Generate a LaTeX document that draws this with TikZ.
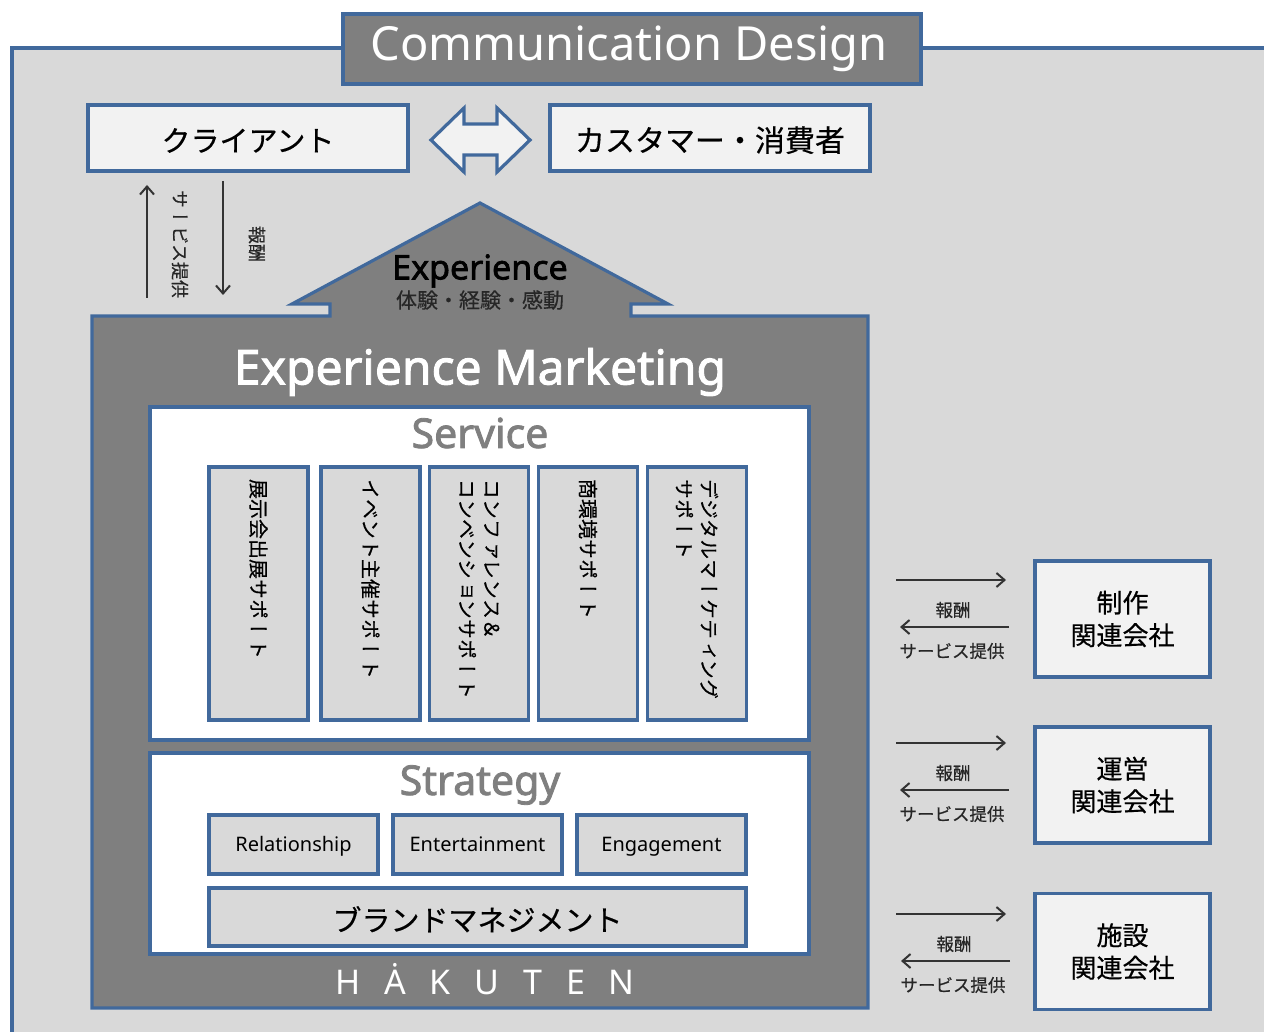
\documentclass[tikz,border=0pt]{standalone}
\usepackage{fontspec}
\usetikzlibrary{arrows.meta}
\setmainfont{Noto Sans}
\newfontfamily\heavy[FakeBold=2]{Noto Sans}
\newfontfamily\jp[FakeBold=0.5]{Noto Sans CJK JP}
\newfontfamily\tate[Vertical=RotatedGlyphs,RawFeature=+vert,FakeBold=0.4]{Noto Sans CJK JP}
\newfontfamily\spaced[LetterSpace=70]{Noto Sans}
\definecolor{edgeblue}{HTML}{41699C}
\definecolor{housegray}{HTML}{7F7F7F}
\definecolor{panelgray}{HTML}{D9D9D9}
\definecolor{palegray}{HTML}{F2F2F2}
\newcommand{\fs}[1]{\fontsize{#1}{1.25\dimexpr #1pt\relax}\selectfont}
\tikzset{
  x=1pt, y=-1pt,
  edge/.style={draw=edgeblue, line width=3.2pt},
  palebox/.style={edge, fill=palegray, text=black, inner sep=0pt, align=center},
  graybox/.style={edge, fill=panelgray, text=black, inner sep=0pt, align=center},
  whitebox/.style={edge, fill=white, inner sep=0pt},
  colbox/.style={graybox, rotate=-90, minimum width=253pt, minimum height=99pt,
    text width=229pt, align=left, font=\tate\fs{20}},
  strbox/.style={graybox, minimum width=169pt, minimum height=59pt, font=\fs{20},
    text height=16pt, text depth=2pt},
  topbox/.style={palebox, minimum width=320pt, minimum height=66pt, text height=29pt, text depth=2pt},
  partner/.style={palebox, minimum width=175pt, minimum height=116pt, font=\jp\fs{26}},
  flow/.style={-{Straight Barb[length=8pt,width=14pt]}, line width=2pt, draw=black!80},
  small/.style={inner sep=0pt, text=black!85, font=\jp\fs{17.5}}
}
\begin{document}
\begin{tikzpicture}
\useasboundingbox (0,0) rectangle (1264,1032);
\clip (0,0) rectangle (1264,1032);
\draw [edge, fill=panelgray] (12,48) rectangle (1290,1060);

\node [edge, fill=housegray, minimum width=578pt, minimum height=70pt, inner sep=0pt, text=white, font=\fs{47}] (title) at (632,49) {\hspace*{-6pt}Communication Design};
\node [topbox, font=\jp\fs{29}] (client) at (248,138) {クライアント};
\node [topbox, font=\jp\fs{30}] (customer) at (710,138) {カスタマー・消費者};
\draw [edge, fill=palegray] (431,140) -- (464,108) -- (464,124) -- (497,124) -- (497,108) -- (530,140) -- (497,172) -- (497,155) -- (464,155) -- (464,172) -- cycle;

\draw [edge, fill=housegray, line join=miter] (480,203) -- (668,304) -- (631,304) -- (631,316) -- (868,316) -- (868,1008) -- (92,1008) -- (92,316) -- (330,316) -- (330,304) -- (292,304) -- cycle;
\node [inner sep=0pt, font=\heavy\fs{34}] (exp) at (480,271) {Experience};
\node [inner sep=0pt, text=black!85, font=\jp\fs{21}] (expjp) at (480,300) {体験・経験・感動};
\node [inner sep=0pt, text=white, font=\heavy\fs{48}] (mkt) at (480,372) {Experience Marketing};

\node [whitebox, minimum width=659pt, minimum height=333pt] (service) at (479.5,573.5) {};
\node [inner sep=0pt, text=housegray, font=\heavy\fs{41}] (servicet) at (480,433) {Service};
\node [colbox] (expo) at (258.5,593.5) {展示会出展サポート};
\node [colbox] (event) at (370.5,593.5) {イベント主催サポート};
\node [colbox] (conf) at (479,593.5) {コンファレンス＆\\コンベンションサポート};
\node [colbox] (shop) at (588,593.5) {商環境サポート};
\node [colbox] (digi) at (697,593.5) {デジタルマーケティング\\サポート};

\node [whitebox, minimum width=659pt, minimum height=201pt] (strategy) at (479.5,853.5) {};
\node [inner sep=0pt, text=housegray, font=\heavy\fs{41}] (strategyt) at (480,785) {Strategy};
\node [strbox] (rel) at (293.5,844.5) {Relationship};
\node [strbox] (ent) at (477.5,844.5) {Entertainment};
\node [strbox] (eng) at (661.5,844.5) {Engagement};
\node [graybox, minimum width=537pt, minimum height=58pt, text height=30pt, text depth=2pt, font=\jp\fs{29}] (brand) at (477.5,917) {ブランドマネジメント};
\node [inner sep=0pt, text=white, font=\spaced\fs{34}] (logo) at (485,979) {HȦKUTEN};

\node [partner] (prod) at (1122.5,619) {制作\\関連会社};
\node [partner] (oper) at (1122.5,785) {運営\\関連会社};
\node [partner] (site) at (1122.5,951.5) {施設\\関連会社};

\coordinate (cu1) at (147,298);
\coordinate (cu2) at (147,185);
\coordinate (cd1) at (223,181);
\coordinate (cd2) at (223,295);
\draw [flow] (cu1) -- (cu2);
\draw [flow] (cd1) -- (cd2);
\node [small, rotate=-90, font=\tate\fs{18}] (svcv) at (180,244) {サービス提供};
\node [small, rotate=-90, font=\tate\fs{18}] (feev) at (257,244) {報酬};

\foreach \n/\ya/\yb/\dx in {a/580/627/0,b/743/790/0,c/914/961/1}{
  \coordinate (\n1) at (896,\ya);
  \coordinate (\n2) at (1006,\ya);
  \coordinate (\n3) at (1009+\dx,\yb);
  \coordinate (\n4) at (900+\dx,\yb);
  \draw [flow] (\n1) -- (\n2);
  \draw [flow] (\n3) -- (\n4);
  \node [small] (\n fee) at (953+\dx,\yb-17) {報酬};
  \node [small] (\n svc) at (952+\dx,\yb+24) {サービス提供};
}
\end{tikzpicture}
\end{document}
